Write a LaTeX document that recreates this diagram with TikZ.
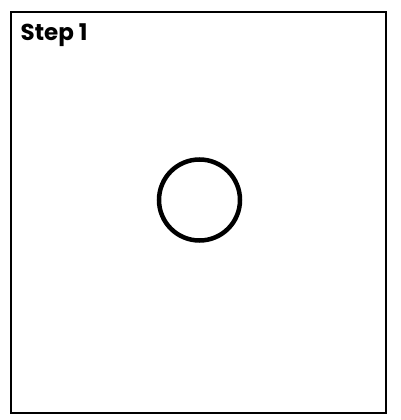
\documentclass[tikz,border=0pt]{standalone}
\usepackage{fontspec}
\setmainfont{Poppins}
\usetikzlibrary{positioning}
\tikzset {
  frame/.style = {draw, line width=1.5pt, rectangle},
  ring/.style = {draw, circle, line width=4.5pt, minimum size=81pt, inner sep=0pt},
  steplabel/.style = {anchor=base west, inner sep=0pt, font=\fontsize{23}{26}\selectfont\bfseries}
}

\begin{document}
\begin{tikzpicture}[x=1pt, y=-1pt]
    \useasboundingbox (0,0) rectangle (400,420);

    \draw[frame] (11,12) rectangle (386,413);
    \node[steplabel, name=title] (title) at (20.5,41) {Step 1};

    \node[ring, name=shape] (shape) at (199.5,200) {};

  \end{tikzpicture}
\end{document}
